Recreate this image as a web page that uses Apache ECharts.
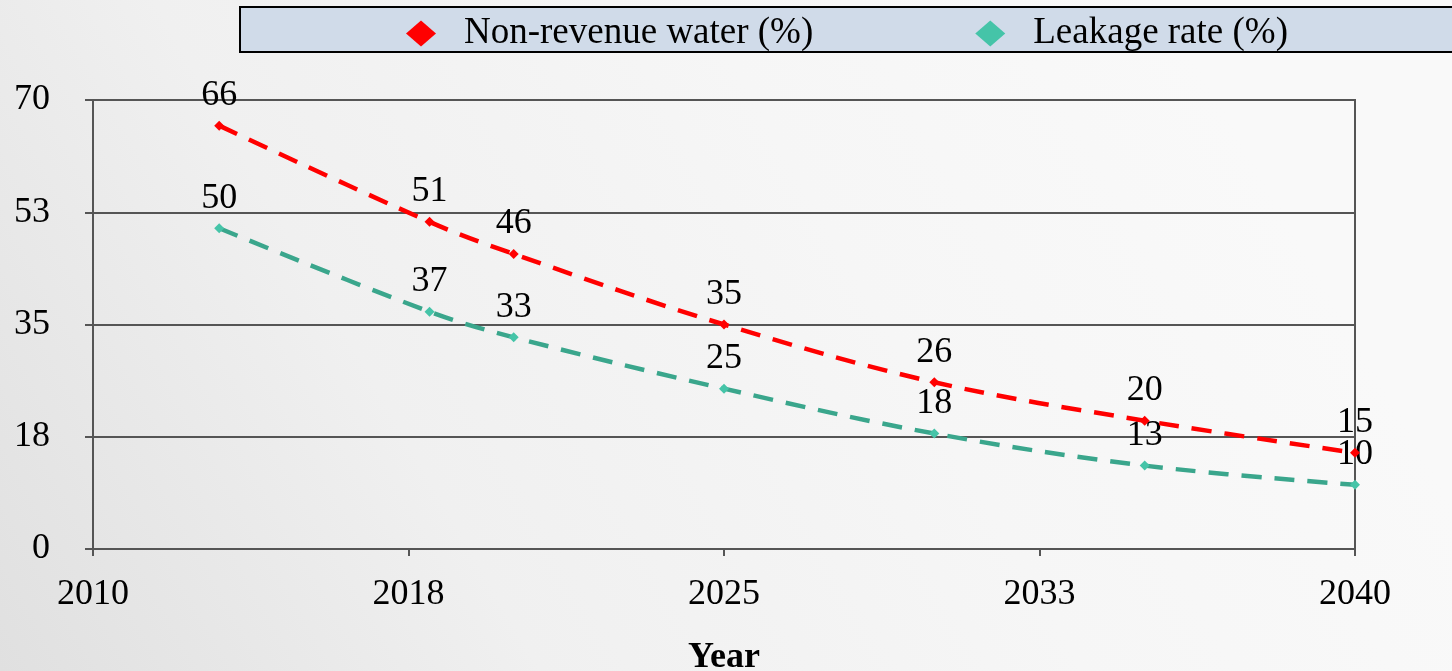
<!DOCTYPE html>
<html>
<head>
<meta charset="utf-8">
<script src="https://cdn.jsdelivr.net/npm/echarts@6/dist/echarts.min.js"></script>
<style>
html,body{margin:0;padding:0;width:1452px;height:671px;overflow:hidden;}
#chart{width:1452px;height:671px;}
</style>
</head>
<body>
<div id="chart"></div>
<script>
var years = [2013, 2018, 2020, 2025, 2030, 2035, 2040];
var nonRevenueWater = [66, 51, 46, 35, 26, 20, 15];
var leakageRate = [50, 37, 33, 25, 18, 13, 10];
var seriesNames = ['Non-revenue water (%)', 'Leakage rate (%)'];
var xAxisName = 'Year';

var FONT = '"Liberation Serif", "Times New Roman", serif';
var chart = echarts.init(document.getElementById('chart'));

function pairs(xs, ys) { return xs.map(function (x, i) { return [x, ys[i]]; }); }

var labelStyle = {
  show: true, position: 'top', distance: 7,
  fontFamily: FONT, fontSize: 36, color: '#000'
};

chart.setOption({
  backgroundColor: {
    type: 'linear', x: 0, y: 1, x2: 0.8, y2: 0,
    colorStops: [
      { offset: 0, color: '#e0e0e0' },
      { offset: 0.35, color: '#f0f0f0' },
      { offset: 0.7, color: '#f6f6f6' },
      { offset: 1, color: '#f9f9f9' }
    ]
  },
  animation: false,
  graphic: [{
    type: 'rect', z: 0,
    shape: { x: 240, y: 7, width: 1240, height: 45 },
    style: { fill: '#d0dbe9', stroke: '#000', lineWidth: 2 }
  }],
  legend: {
    z: 10,
    left: 401, top: 10,
    itemWidth: 30, itemHeight: 26, itemGap: 162,
    icon: 'diamond',
    textStyle: { fontFamily: FONT, fontSize: 37, color: '#000', padding: [0, 0, 0, 23] },
    data: seriesNames
  },
  grid: {
    left: 93, right: 97, top: 100, bottom: 122,
    outerBoundsMode: 'none', containLabel: false,
    show: true, borderColor: '#555', borderWidth: 2, backgroundColor: 'transparent'
  },
  xAxis: {
    type: 'value', min: 2010, max: 2040, interval: 7.5,
    name: xAxisName, nameLocation: 'middle', nameGap: 91,
    nameTextStyle: { fontFamily: FONT, fontSize: 36, fontWeight: 'bold', color: '#000' },
    axisLine: { show: true, lineStyle: { color: '#555', width: 2 } },
    axisTick: { show: true, length: 7, lineStyle: { color: '#555', width: 2 } },
    splitLine: { show: false },
    axisLabel: {
      fontFamily: FONT, fontSize: 36, color: '#000', margin: 28,
      formatter: function (v) { return String(Math.round(v)); }
    }
  },
  yAxis: {
    type: 'value', min: 0, max: 70, interval: 17.5,
    axisLine: { show: true, lineStyle: { color: '#555', width: 2 } },
    axisTick: { show: true, length: 8, lineStyle: { color: '#555', width: 2 } },
    splitLine: { show: true, lineStyle: { color: '#555', width: 2 } },
    axisLabel: {
      fontFamily: FONT, fontSize: 36, color: '#000', margin: 43,
      formatter: function (v) { return String(Math.round(v)); }
    }
  },
  series: [
    {
      name: seriesNames[0], type: 'line', smooth: 0.35,
      data: pairs(years, nonRevenueWater),
      symbol: 'diamond', symbolSize: 10,
      itemStyle: { color: '#ff0000' },
      lineStyle: { color: '#ff0000', width: 4.5, type: [20, 13] },
      label: labelStyle, z: 3
    },
    {
      name: seriesNames[1], type: 'line', smooth: 0.35,
      data: pairs(years, leakageRate),
      symbol: 'diamond', symbolSize: 10,
      itemStyle: { color: '#45c4a8' },
      lineStyle: { color: '#3aa68c', width: 4.5, type: [20, 13] },
      label: labelStyle, z: 2
    }
  ]
});
</script>
</body>
</html>
